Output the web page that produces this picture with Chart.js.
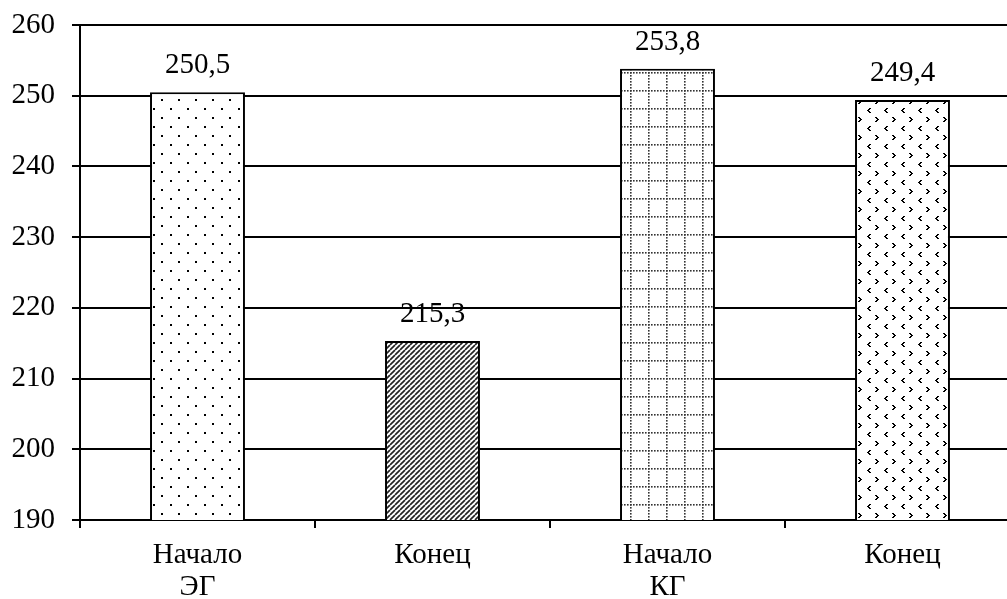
<!DOCTYPE html>
<html>
<head>
<meta charset="utf-8">
<script src="https://cdn.jsdelivr.net/npm/chart.js@4.4.1/dist/chart.umd.min.js"></script>
<style>
  html, body { margin: 0; padding: 0; background: #fff; overflow: hidden; }
  .chart-box { width: 1020px; height: 599px; }
</style>
</head>
<body>
<div class="chart-box"><canvas id="chart"></canvas></div>
<script>
const categories = [['Начало', 'ЭГ'], ['Конец', ''], ['Начало', 'КГ'], ['Конец', '']];
const values = [250.5, 215.3, 253.8, 249.4];
const yMin = 190;
const yMax = 260;
const yStep = 10;

const font = { family: "'Liberation Serif', 'Times New Roman', serif", size: 29 };

// small tiles used as bar fills
function makeTile(w, h, draw) {
    const c = document.createElement('canvas');
    c.width = w;
    c.height = h;
    const g = c.getContext('2d');
    g.fillStyle = '#fff';
    g.fillRect(0, 0, w, h);
    g.fillStyle = '#000';
    g.strokeStyle = '#000';
    draw(g, w, h);
    return document.createElement('canvas').getContext('2d').createPattern(c, 'repeat');
}

const sparseDots = makeTile(17, 18, (g) => {
    g.fillRect(0, 0, 2, 2);
    g.fillRect(8, 9, 2, 2);
});

const diagonal = makeTile(5, 5, (g, w, h) => {
    g.lineWidth = 1.7;
    g.strokeStyle = '#222';
    for (let k = -1; k <= 1; k++) {
        g.beginPath();
        g.moveTo(k * w, h);
        g.lineTo(k * w + w, 0);
        g.stroke();
    }
});

const dottedGrid = makeTile(18, 18, (g) => {
    g.fillStyle = '#333';
    for (let i = 0; i < 18; i += 3) {
        g.fillRect(i, 0, 1.6, 1.6);
        g.fillRect(0, i, 1.6, 1.6);
    }
});

const chevrons = makeTile(17, 18, (g) => {
    // "<" mark
    g.fillRect(2, 0, 2, 1);
    g.fillRect(1, 1, 2, 1);
    g.fillRect(0, 2, 2, 1);
    g.fillRect(1, 3, 2, 1);
    g.fillRect(2, 4, 2, 1);
    // ">" mark
    g.fillRect(8, 9, 2, 1);
    g.fillRect(9, 10, 2, 1);
    g.fillRect(10, 11, 2, 1);
    g.fillRect(9, 12, 2, 1);
    g.fillRect(8, 13, 2, 1);
});

const fills = [sparseDots, diagonal, dottedGrid, chevrons];

// value written over each bar, decimal comma
const valueLabels = {
    id: 'valueLabels',
    afterDatasetsDraw(chart) {
        const ctx = chart.ctx;
        const meta = chart.getDatasetMeta(0);
        ctx.save();
        ctx.font = font.size + 'px ' + font.family;
        ctx.fillStyle = '#000';
        ctx.textAlign = 'center';
        ctx.textBaseline = 'alphabetic';
        meta.data.forEach((bar, i) => {
            const text = values[i].toFixed(1).replace('.', ',');
            ctx.fillText(text, bar.x, bar.y - 19);
        });
        ctx.restore();
    }
};

new Chart(document.getElementById('chart'), {
    type: 'bar',
    data: {
        labels: categories,
        datasets: [{
            data: values,
            backgroundColor: fills,
            borderColor: '#000',
            borderWidth: 2,
            borderSkipped: false,
            barPercentage: 0.404,
            categoryPercentage: 1
        }]
    },
    options: {
        responsive: true,
        maintainAspectRatio: false,
        animation: false,
        layout: { padding: { top: 25, right: 0, left: 0, bottom: 0 } },
        plugins: {
            legend: { display: false },
            tooltip: { enabled: false }
        },
        scales: {
            x: {
                offset: true,
                grid: {
                    offset: true,
                    drawOnChartArea: false,
                    drawTicks: true,
                    tickLength: 8,
                    color: '#000',
                    lineWidth: 2
                },
                border: { display: true, color: '#000', width: 2 },
                ticks: {
                    color: '#000',
                    font: { ...font, lineHeight: 1.08 },
                    padding: 12,
                    maxRotation: 0,
                    autoSkip: false
                },
                afterFit(scale) {
                    scale.height = 79;
                    scale.paddingLeft = 0;
                    scale.paddingRight = 0;
                }
            },
            y: {
                min: yMin,
                max: yMax,
                grid: {
                    color: '#000',
                    lineWidth: 2,
                    tickLength: 8
                },
                border: { display: true, color: '#000', width: 2 },
                ticks: {
                    stepSize: yStep,
                    color: '#000',
                    font: font,
                    padding: 17
                },
                afterFit(scale) {
                    scale.width = 80;
                    scale.paddingTop = 0;
                    scale.paddingBottom = 0;
                }
            }
        }
    },
    plugins: [valueLabels]
});
</script>
</body>
</html>
